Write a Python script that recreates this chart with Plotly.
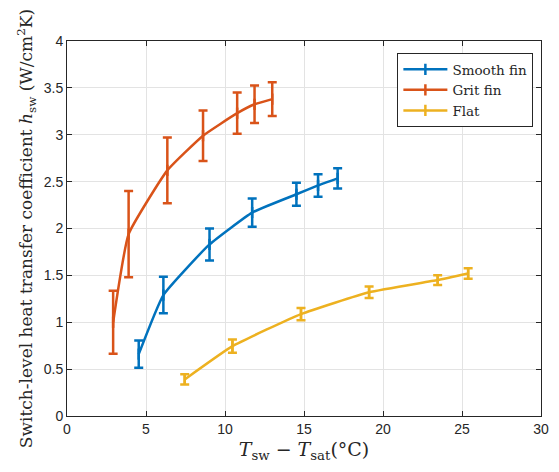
import plotly.graph_objects as go

# Wall superheat T_sw - T_sat (°C), switch-level HTC h_sw (W/cm^2K) and error half-widths
smooth_x = [4.54, 6.10, 9.02, 11.72, 14.52, 15.89, 17.13]
smooth_y = [0.66, 1.29, 1.83, 2.17, 2.365, 2.46, 2.535]
smooth_err = [0.146, 0.195, 0.17, 0.15, 0.122, 0.12, 0.107]

grit_x = [2.92, 3.90, 6.35, 8.61, 10.77, 11.87, 12.99]
grit_y = [1.00, 1.94, 2.62, 2.99, 3.23, 3.325, 3.38]
grit_err = [0.335, 0.46, 0.35, 0.27, 0.22, 0.20, 0.18]

flat_x = [7.45, 10.47, 14.81, 19.12, 23.46, 25.39]
flat_y = [0.39, 0.745, 1.087, 1.32, 1.45, 1.52]
flat_err = [0.055, 0.07, 0.065, 0.062, 0.052, 0.055]

x_ticks = [0, 5, 10, 15, 20, 25, 30]
y_ticks = [0, 0.5, 1, 1.5, 2, 2.5, 3, 3.5, 4]

series = [
    ("Smooth fin", smooth_x, smooth_y, smooth_err, "#0072BD"),
    ("Grit fin", grit_x, grit_y, grit_err, "#D95319"),
    ("Flat", flat_x, flat_y, flat_err, "#EDB120"),
]

fig = go.Figure()
for name, xs, ys, es, color in series:
    fig.add_trace(go.Scatter(
        x=xs, y=ys, name=name,
        mode="lines+markers",
        line=dict(color=color, width=2.5, shape="spline", smoothing=0.4),
        marker=dict(symbol="line-ns", size=8, line=dict(color=color, width=2.5), color=color),
        error_y=dict(type="data", array=es, visible=True, color=color,
                     thickness=2.5, width=4.5),
    ))

axis_common = dict(
    showline=True, linecolor="#262626", linewidth=1, mirror="allticks",
    ticks="inside", ticklen=5, tickcolor="#262626", tickwidth=1,
    showgrid=True, gridcolor="#e3e3e3", gridwidth=1, zeroline=False,
    tickfont=dict(family="Liberation Sans, Arial, sans-serif", size=14, color="#262626"),
)

serif = "DejaVu Serif, Liberation Serif, serif"

fig.update_layout(
    width=559, height=472,
    margin=dict(l=67, r=10, t=41, b=56),
    paper_bgcolor="white", plot_bgcolor="white",
    showlegend=True,
    legend=dict(
        x=0.697, y=0.968, xanchor="left", yanchor="top",
        bgcolor="white", bordercolor="#262626", borderwidth=1,
        font=dict(family=serif, size=13.5, color="#262626"),
        itemwidth=44, tracegroupgap=0,
    ),
    xaxis=dict(
        range=[0, 30], tickvals=x_ticks, ticktext=[str(v) for v in x_ticks],
        title=dict(text="<i>T</i><sub>sw</sub> − <i>T</i><sub>sat</sub>(°C)",
                   font=dict(family=serif, size=19, color="#262626"),
                   standoff=6),
        **axis_common,
    ),
    yaxis=dict(
        range=[0, 4], tickvals=y_ticks, ticktext=[f"{v:g}" for v in y_ticks],
        title=dict(text="Switch-level heat transfer coefficient <i>h</i><sub>sw</sub> (W/cm<sup>2</sup>K)",
                   font=dict(family=serif, size=17, color="#262626"),
                   standoff=6),
        **axis_common,
    ),
)

fig.write_html("out.html")
